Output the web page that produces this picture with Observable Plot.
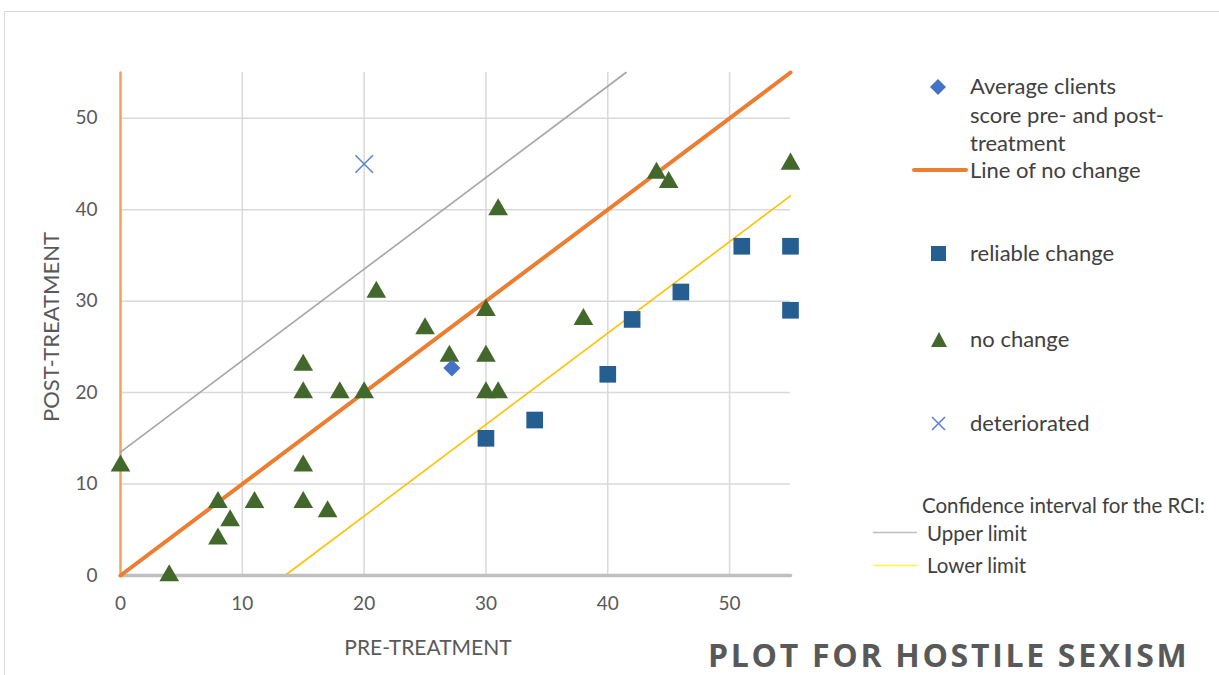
<!DOCTYPE html>
<html>
<head>
<meta charset="utf-8">
<script src="https://cdn.jsdelivr.net/npm/d3@7"></script>
<script src="https://cdn.jsdelivr.net/npm/@observablehq/plot@0.6"></script>
<style>
  html, body { margin: 0; padding: 0; background: #fff; }
  #wrap { position: relative; width: 1219px; height: 675px; overflow: hidden; }
  #frame { position: absolute; left: 4px; top: 11px; width: 1230px; height: 680px; border: 1px solid #d9d9d9; box-sizing: border-box; }
  #chart { position: absolute; left: 0; top: 0; }
  .leg { position: absolute; font-family: Lato, sans-serif; color: #404040; font-size: 22px; line-height: 28.5px; white-space: nowrap; }
  .small { font-size: 20.5px; line-height: 22px; }
  .axlab { position: absolute; font-family: Lato, sans-serif; color: #595959; white-space: nowrap; }
  #xlab { left: 428px; top: 646px; font-size: 21px; transform: translate(-50%, -50%); }
  #ylab { left: 50px; top: 327px; font-size: 22px; transform: translate(-50%, -50%) rotate(-90deg); }
  #title { position: absolute; left: 708px; top: 633px; font-family: "Open Sans", sans-serif; font-weight: 700; font-size: 32px; letter-spacing: 2.7px; color: #595959; white-space: nowrap; }
  svg.sym { position: absolute; overflow: visible; }
</style>
</head>
<body>
<div id="wrap">
  <div id="frame"></div>
  <div id="chart"></div>
  <div id="legend"></div>
  <div id="xlab" class="axlab">PRE-TREATMENT</div>
  <div id="ylab" class="axlab">POST-TREATMENT</div>
  <div id="title">PLOT FOR HOSTILE SEXISM</div>
</div>
<script>
// ---- data ----
const noChangePre  = [0, 4, 8, 8, 9, 11, 15, 15, 15, 15, 17, 18, 20, 21, 25, 27, 30, 30, 30, 31, 31, 38, 44, 45, 55];
const noChangePost = [12, 0, 8, 4, 6, 8, 23, 20, 12, 8, 7, 20, 20, 31, 27, 24, 29, 24, 20, 20, 40, 28, 44, 43, 45];
const reliablePre  = [30, 34, 40, 42, 46, 51, 55, 55];
const reliablePost = [15, 17, 22, 28, 31, 36, 36, 29];
const deterioratedPre  = [20];
const deterioratedPost = [45];
const averagePre  = [27.2];
const averagePost = [22.7];
const noChangeLineX = [0, 55];
const noChangeLineY = [0, 55];
const upperLimitX = [0, 41.5];
const upperLimitY = [13.5, 55];
const lowerLimitX = [13.5, 55];
const lowerLimitY = [0, 41.5];
const axisLineX = [0, 55];
const axisLineY = [0, 0];
const vertLineX = [0, 0];
const vertLineY = [0, 55];
const tickValues = [0, 10, 20, 30, 40, 50];
const gridValues = [10, 20, 30, 40, 50];

const zip = (xs, ys) => xs.map((x, i) => ({x, y: ys[i]}));

const plot = Plot.plot({
  width: 1219,
  height: 675,
  marginLeft: 120,
  marginRight: 429,
  marginTop: 72,
  marginBottom: 100,
  style: { fontFamily: "Lato, sans-serif", fontSize: "19px", color: "#595959", background: "transparent" },
  x: { domain: [0, 55], ticks: tickValues },
  y: { domain: [0, 55], ticks: tickValues },
  marks: [
    Plot.gridX(gridValues, { stroke: "#d9d9d9", strokeOpacity: 1, strokeWidth: 1.5 }),
    Plot.gridY(gridValues, { stroke: "#d9d9d9", strokeOpacity: 1, strokeWidth: 1.5 }),
    Plot.axisX(tickValues, { tickSize: 0, tickPadding: 21, fontSize: 19, label: null }),
    Plot.axisY(tickValues, { tickSize: 0, tickPadding: 23, fontSize: 19, label: null }),
    Plot.line(zip(vertLineX, vertLineY), { x: "x", y: "y", stroke: "#f4a15f", strokeWidth: 2.5 }),
    Plot.line(zip(upperLimitX, upperLimitY), { x: "x", y: "y", stroke: "#a5a5a5", strokeWidth: 1.6 }),
    Plot.line(zip(lowerLimitX, lowerLimitY), { x: "x", y: "y", stroke: "#ffc000", strokeWidth: 1.6 }),
    Plot.line(zip(axisLineX, axisLineY), { x: "x", y: "y", stroke: "#bfbfbf", strokeWidth: 3.5 }),
    Plot.line(zip(noChangeLineX, noChangeLineY), { x: "x", y: "y", stroke: "#ed7d31", strokeWidth: 4 }),
    Plot.dot(zip(reliablePre, reliablePost), { x: "x", y: "y", symbol: "square", r: 9.4, fill: "#255e91", stroke: "none" }),
    Plot.dot(zip(noChangePre, noChangePost), { x: "x", y: "y", symbol: "triangle", r: 7.3, fill: "#43682b", stroke: "none" }),
    Plot.dot(zip(averagePre, averagePost), { x: "x", y: "y", symbol: "square", r: 6.8, rotate: 45, fill: "#4472c4", stroke: "none" }),
    Plot.dot(zip(deterioratedPre, deterioratedPost), { x: "x", y: "y", symbol: "times", r: 8, stroke: "#5b83d6", strokeWidth: 1.6, fill: "none" })
  ]
});
document.getElementById("chart").appendChild(plot);

// ---- legend ----
const legend = document.getElementById("legend");
function addText(txt, left, top, cls) {
  const d = document.createElement("div");
  d.className = "leg" + (cls ? " " + cls : "");
  d.style.left = left + "px";
  d.style.top = top + "px";
  d.innerHTML = txt;
  legend.appendChild(d);
}
function addSvg(left, top, w, h, inner) {
  const s = document.createElementNS("http://www.w3.org/2000/svg", "svg");
  s.setAttribute("class", "sym");
  s.setAttribute("width", w);
  s.setAttribute("height", h);
  s.style.left = left + "px";
  s.style.top = top + "px";
  s.innerHTML = inner;
  legend.appendChild(s);
}
addSvg(930, 79, 16, 16, '<path d="M8,0 L16,8 L8,16 L0,8 Z" fill="#4472c4"/>');
addText("Average clients<br>score pre- and post-<br>treatment", 970, 72);
addSvg(912, 167, 56, 6, '<line x1="2" y1="3" x2="54" y2="3" stroke="#ed7d31" stroke-width="4" stroke-linecap="round"/>');
addText("Line of no change", 970, 156);
addSvg(931, 246, 15, 15, '<rect width="15" height="15" fill="#255e91"/>');
addText("reliable change", 970, 239);
addSvg(931, 332, 16, 15, '<path d="M8,0 L16,15 L0,15 Z" fill="#43682b"/>');
addText("no change", 970, 325);
addSvg(931, 416, 15, 15, '<path d="M1,1 L14,14 M14,1 L1,14" stroke="#5b83d6" stroke-width="1.6"/>');
addText("deteriorated", 970, 409);
addText("Confidence interval for the RCI:", 922, 494, "small");
addSvg(873, 531, 44, 3, '<line x1="0" y1="1.5" x2="44" y2="1.5" stroke="#bfbfbf" stroke-width="1.5"/>');
addText("Upper limit", 927, 522, "small");
addSvg(873, 564, 44, 3, '<line x1="0" y1="1.5" x2="44" y2="1.5" stroke="#ffff33" stroke-width="1.5"/>');
addText("Lower limit", 927, 554, "small");
</script>
</body>
</html>
